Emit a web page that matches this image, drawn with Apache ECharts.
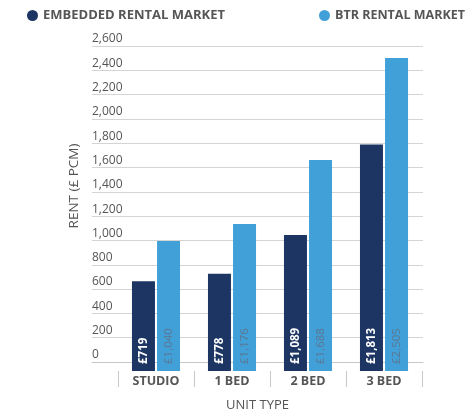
<!DOCTYPE html>
<html>
<head>
<meta charset="utf-8">
<script src="https://cdn.jsdelivr.net/npm/echarts@6/dist/echarts.min.js"></script>
<style>
  html, body { margin: 0; padding: 0; background: #fff; }
  #chart { width: 476px; height: 417px; }
</style>
</head>
<body>
<div id="chart"></div>
<script>
// rent by unit type, £ per calendar month
const unitTypes = ['STUDIO', '1 BED', '2 BED', '3 BED']
const embeddedRent = [719, 778, 1089, 1813]
const btrRent = [1040, 1176, 1688, 2505]
const seriesNames = ['EMBEDDED RENTAL MARKET', 'BTR RENTAL MARKET']

const font = '"Open Sans", sans-serif'
const navy = '#1d3563'
const sky = '#42a0d9'

const money = v => '£' + v.toLocaleString('en-GB')

const chart = echarts.init(document.getElementById('chart'))

const legendText = { color: '#555', fontSize: 13, fontWeight: 'bold', fontFamily: font }

const option = {
  animation: false,
  textStyle: { fontFamily: font },
  legend: [
    {
      data: [seriesNames[0]],
      left: 22,
      top: 4,
      icon: 'circle',
      itemWidth: 11,
      itemHeight: 11,
      textStyle: legendText
    },
    {
      data: [seriesNames[1]],
      left: 314,
      top: 4,
      icon: 'circle',
      itemWidth: 11,
      itemHeight: 11,
      textStyle: Object.assign({}, legendText, { fontSize: 12.5 })
    }
  ],
  grid: [
    // background grid: gridlines + y labels
    { left: 92, right: 53, top: 46, bottom: 46 },
    // bars sit in a narrower band
    { left: 118, right: 54, top: 46, bottom: 46 }
  ],
  xAxis: [
    {
      gridIndex: 0,
      type: 'category',
      data: [''],
      axisLine: { show: true, lineStyle: { color: '#c8c8c8' } },
      axisTick: { show: false },
      axisLabel: { show: false },
      name: 'UNIT TYPE',
      nameLocation: 'middle',
      nameGap: 37,
      nameTextStyle: { color: '#555', fontSize: 13, fontFamily: font }
    },
    {
      gridIndex: 1,
      type: 'category',
      data: unitTypes,
      axisLine: { show: false },
      axisTick: { show: true, length: 16, lineStyle: { color: '#c8c8c8' } },
      axisLabel: { color: '#555', fontSize: 12.5, fontWeight: 'bold', margin: 4 }
    }
  ],
  yAxis: [
    {
      gridIndex: 0,
      type: 'value',
      min: 0,
      max: 2600,
      interval: 200,
      axisLine: { show: false },
      axisTick: { show: false },
      splitLine: { lineStyle: { color: '#d4d4d4' } },
      axisLabel: {
        inside: true,
        margin: 0,
        color: '#555',
        fontSize: 12,
        verticalAlign: 'bottom',
        padding: [0, 0, 1, 0],
        formatter: v => v.toLocaleString('en-GB')
      },
      name: 'RENT (£ PCM)',
      nameLocation: 'middle',
      nameGap: 10,
      nameTextStyle: { color: '#555', fontSize: 13.5, fontFamily: font, padding: [0, 0, 0, 36] }
    },
    {
      gridIndex: 1,
      type: 'value',
      min: 0,
      max: 2600,
      interval: 200,
      show: false
    }
  ],
  series: [
    {
      name: seriesNames[0],
      type: 'bar',
      xAxisIndex: 1,
      yAxisIndex: 1,
      data: embeddedRent,
      barWidth: 23,
      barGap: '9%',
      itemStyle: { color: navy },
      label: {
        show: true,
        position: 'insideBottom',
        rotate: 90,
        align: 'left',
        verticalAlign: 'middle',
        distance: 7,
        color: '#fff',
        fontSize: 11.5,
        fontWeight: 'bold',
        formatter: p => money(p.value)
      }
    },
    {
      name: seriesNames[1],
      type: 'bar',
      xAxisIndex: 1,
      yAxisIndex: 1,
      data: btrRent,
      barWidth: 23,
      barGap: '9%',
      itemStyle: { color: sky },
      label: {
        show: true,
        position: 'insideBottom',
        rotate: 90,
        align: 'left',
        verticalAlign: 'middle',
        distance: 7,
        color: '#5b7690',
        fontSize: 11.5,
        fontWeight: 'normal',
        formatter: p => money(p.value)
      }
    }
  ]
}

chart.setOption(option)
// re-measure once the local fonts are actually in use
if (document.fonts && document.fonts.ready) {
  document.fonts.ready.then(() => {
    chart.clear()
    chart.setOption(option)
  })
}
</script>
</body>
</html>
